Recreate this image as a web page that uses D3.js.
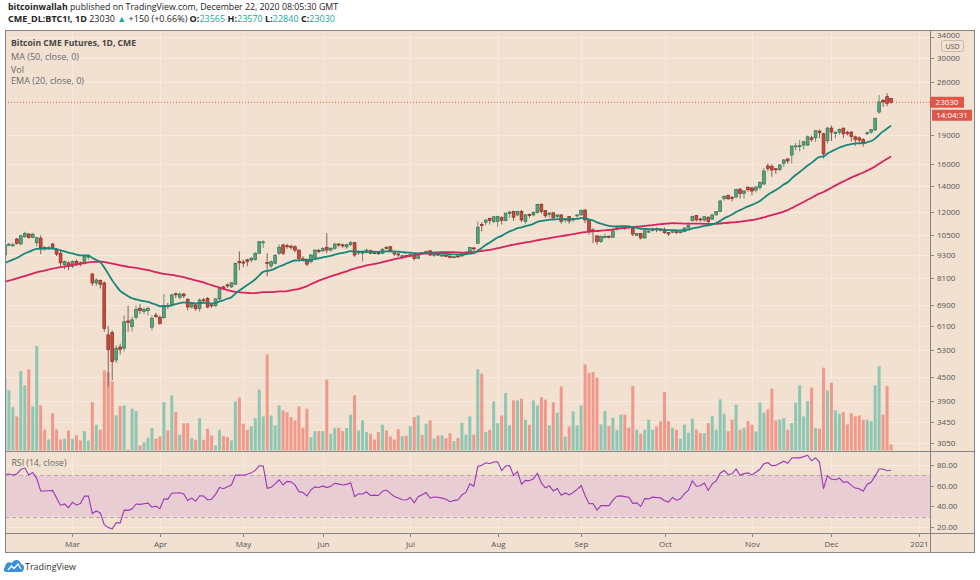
<!DOCTYPE html>
<html><head><meta charset="utf-8">
<script src="https://cdn.jsdelivr.net/npm/d3@7"></script>
<style>html,body{margin:0;padding:0;background:#fff;}svg{display:block;font-family:"Open Sans",Lato,sans-serif;}</style>
</head><body><svg id="c" width="980" height="580"></svg>
<script>
// ---------- categories ----------
const startDate = "2020-02-05";
const holidays = ["2020-02-17","2020-04-10","2020-05-25","2020-07-03","2020-09-07","2020-11-26","2020-12-25","2021-01-01"];
const monthLabels = ["Mar","Apr","May","Jun","Jul","Aug","Sep","Oct","Nov","Dec","2021"];
const monthTickDates = ["2020-03-02","2020-04-01","2020-05-01","2020-06-01","2020-07-01","2020-08-03","2020-09-01","2020-10-01","2020-11-02","2020-12-01","2021-01-04"];
const priceTicks = [3050,3450,3900,4500,5300,6100,6900,8100,9300,10500,12000,14000,16000,19000,26000,30000,34000];
const rsiTicks = [20,40,60,80];
// closes before the first visible bar (for MA/EMA/RSI warm-up)
const priorClose = [7300,7100,7200,7500,7800,7350,7350,7250,7450,7550,7400,7250,7250,7250,7300,6950,6650,7300,7200,7200,7400,7300,7250,7300,7250,7200,7000,7400,7800,8200,8100,7850,8200,8150,8850,8850,8750,8950,8700,8700,8400,8450,8950,9400,9350,9500,9400,9300,9200];
// ---------- series ----------
const open = [9300,9870,9860,10230,9930,10370,10530,10330,10000,10280,9720,9700,9930,9620,9400,8780,8880,8700,8960,8880,8870,9200,8310,7880,7990,7880,5790,5870,4990,5390,5350,6290,6080,6430,6780,6660,6690,6060,6510,6430,6410,6890,6920,7390,7240,7380,7150,6830,6920,6780,7130,7190,6920,6880,7170,7700,7790,7700,7820,8950,8920,9040,9030,9060,9400,10030,8900,8720,8850,9400,9870,9830,9800,9770,9580,9100,9060,8940,9160,9560,9540,9740,9580,9680,9930,9880,9760,9890,10010,9430,9440,9450,9540,9440,9430,9400,9740,9770,9420,9360,9240,9270,9270,9300,9120,9440,9360,9540,9310,9350,9280,9280,9250,9190,9250,9250,9400,9500,9700,9970,11150,11300,11560,11340,11360,11610,11420,11900,12040,11800,12040,11340,11830,11800,11970,12550,12110,11850,11950,11700,11800,11450,11690,11500,11750,11800,12150,11450,10800,10420,10070,10360,10400,10340,10950,11000,11050,11020,10900,10450,10560,10290,10700,10750,10870,10850,10780,10620,10650,10760,10620,10680,10920,11420,11750,11520,11450,11640,11510,11800,12040,12990,13260,13100,13120,13750,13420,13900,13850,13680,13900,14180,15780,15720,15520,15470,16030,16450,16840,17700,17700,17860,17860,18650,18650,19400,19100,18330,19750,19150,19290,19750,19260,19290,18760,18650,18470,19150,19290,19535,21730,23300,23800,23565];
const high = [9900,9990,10000,10300,10480,10680,10600,10600,10350,10450,9800,9800,10000,9700,9600,9000,8950,9000,9050,8950,9300,9300,8350,8100,8050,7950,6100,5950,5450,5500,6500,6890,6450,6900,6950,6820,6850,6500,6600,6500,7380,7000,7400,7450,7450,7430,7200,7000,6980,7200,7200,7250,6950,7200,7700,7750,7850,7920,8900,9500,9050,9100,9200,9450,10100,10150,9400,9000,9350,9900,9950,9950,9900,9850,9600,9250,9100,9350,9600,9650,9750,10580,9750,9950,9980,9950,9950,10100,10050,9550,9550,9650,9600,9500,9500,9700,9780,9800,9450,9400,9300,9300,9380,9320,9380,9460,9550,9560,9380,9400,9350,9300,9270,9250,9280,9400,9520,9750,9750,11350,11300,11500,11600,11700,11750,11700,11950,12100,12100,12100,12150,11850,11900,12050,12600,12650,12150,11980,12000,11850,11850,11600,11700,11600,11850,12200,12200,11500,10900,10450,10450,10550,10450,10800,11100,11100,11100,11100,10950,10600,10600,10800,10780,10950,10950,10900,10950,10650,10800,10800,10700,10950,11150,11750,11800,11600,11700,11700,11850,12050,12900,13250,13300,13200,13800,13850,13700,14000,13950,14000,14400,15600,16000,15950,15600,15950,16450,16500,17800,18100,18400,18300,18900,18900,19500,19600,19200,19900,20050,19400,19700,19800,19450,19400,18900,18800,18600,19350,19600,21000,24040,23450,24300,23570];
const low = [9250,9800,9800,9900,9880,10300,10250,10280,9780,9350,9550,9600,9650,9250,8700,8550,8510,8600,8700,8700,8800,9050,7750,7750,7630,5900,4260,4430,4900,5150,5250,5900,5900,6350,6550,6550,6500,5950,6400,6150,6380,6750,6850,7200,7150,7200,6700,6780,6680,6650,7000,6780,6800,6850,7100,7550,7650,7650,7800,8500,8650,8700,8900,9000,9350,9700,8200,8600,8800,9300,9300,9650,9600,9450,8950,8950,8700,8850,9100,9400,9450,9400,9500,9600,9750,9700,9650,9800,9200,9300,8940,9400,9350,9350,9300,9350,9620,9450,9250,9200,9150,9150,9200,9000,9080,9300,9300,9250,9200,9250,9200,9200,9100,9150,9170,9200,9350,9450,9500,9950,10700,11100,11150,11250,11000,11150,11350,11600,11400,11700,11300,11200,11600,11700,11900,11900,11600,11650,11550,11600,11200,11250,11200,11300,11600,11750,11250,10500,9980,9900,10000,10250,10250,10300,10750,10850,10800,10850,10400,10400,10200,10250,10600,10700,10650,10700,10550,10400,10600,10550,10580,10650,10880,11350,11350,11350,11300,11250,11450,11750,12000,12850,12900,12800,13050,13000,13000,13550,13250,13500,13700,14100,15300,14800,15050,15300,15700,16000,16000,17300,17200,17400,17800,18200,18200,18600,16500,18000,18300,18600,19000,18600,18900,18250,17800,18200,17700,18950,19100,19400,21500,22400,22500,22840];
const close = [9870,9920,9880,9970,10430,10580,10330,10530,10310,9700,9700,9720,9735,9350,8880,8950,8700,8960,8780,8850,9230,9240,7880,8020,7820,6020,5300,4940,5350,5310,6260,6230,6330,6740,6690,6740,6780,6390,6460,6200,6880,6870,7340,7360,7380,7300,6830,6990,6760,7120,7100,6830,6880,7170,7680,7610,7760,7890,8840,8880,8870,8960,9120,9400,10070,10060,8850,8940,9280,9740,9400,9800,9770,9580,9120,9060,8810,9300,9580,9540,9680,9580,9680,9930,9890,9850,9890,10010,9300,9470,9460,9580,9400,9420,9400,9620,9680,9540,9400,9330,9260,9250,9340,9120,9340,9420,9510,9300,9340,9330,9300,9260,9180,9210,9230,9360,9430,9720,9660,10970,11100,11450,11420,11670,11690,11420,11930,12000,11640,12040,11450,11800,11780,11970,12550,12040,11740,11930,11600,11800,11340,11520,11380,11560,11800,12110,11450,10740,10760,10070,10380,10390,10380,10740,11030,11050,11000,10960,10530,10560,10290,10740,10720,10820,10800,10780,10620,10550,10760,10620,10680,10920,11100,11700,11460,11490,11680,11340,11800,12040,12820,13180,12990,13060,13720,13400,13600,13700,13600,13930,14320,15310,15560,15410,15470,15870,16350,16250,17760,17780,17800,18220,18760,18470,19450,19200,16950,19750,19290,19230,19600,19100,19220,18800,18470,18400,18100,19220,19570,20940,23070,23080,22880,23030];
const volume = [12900,10800,7790,6120,14270,11700,14580,7920,18770,8100,3730,1980,6710,3780,1980,2110,3600,2110,2700,1800,3470,1800,8690,4630,3730,14400,14090,12420,6300,7970,8100,180,7510,7070,900,1490,2290,4010,2110,2520,8690,3600,9900,6890,2830,4910,4910,2210,1930,5810,1930,3910,2700,900,3730,2570,2390,1800,8820,9490,4810,3730,4320,5810,10930,6120,17280,6300,4500,8100,7200,6890,5990,5400,7920,4090,7510,2390,3470,3470,3470,12730,3010,4010,4090,3470,4010,6430,9900,3600,5400,3290,3010,1980,3290,4630,3600,2520,1980,3830,2570,2650,4370,5990,6300,2830,4810,5400,2160,2700,2700,2210,3110,1670,2290,4990,2880,6120,2880,14580,13810,3290,3730,8820,4910,6300,10310,4500,9000,9000,9310,5530,4630,9000,8100,9590,9130,4500,8690,6790,11520,2520,4320,7020,4500,8100,15480,13910,14090,13090,4680,7070,4370,5890,3730,6430,6430,4090,11570,3730,3010,3730,5530,3730,4320,5220,10490,5270,4090,3730,2110,4630,3190,5710,3730,3110,3110,4910,6170,3730,9180,6610,3470,5530,8230,3730,4090,5270,4630,3420,8590,6790,7380,11110,5400,5580,5810,3730,4910,8590,11700,6120,8870,11290,4010,3910,14890,10800,12190,7200,6610,6890,4680,6710,6120,6300,5530,5530,5270,11700,15120,6430,11570,1080];

// ---------- dates (trading days) ----------
const fmt = d3.utcFormat("%Y-%m-%d");
const dates = [];
for (let d = new Date(startDate + "T00:00:00Z"); dates.length < 240; d = d3.utcDay.offset(d, 1)) {
  const wd = d.getUTCDay();
  if (wd === 0 || wd === 6) continue;
  if (holidays.includes(fmt(d))) continue;
  dates.push(fmt(d));
}
const N = close.length;
const idx = d3.range(N);

// ---------- indicators ----------
const all = priorClose.concat(close);
const P = priorClose.length;
const ma50 = idx.map(i => d3.mean(all.slice(i + P - 49, i + P + 1)));
const ema20 = [];
{ let e = d3.mean(all.slice(0, 20));
  for (let k = 20; k < all.length; k++) { e += (all[k] - e) * 2 / 21; if (k >= P) ema20[k - P] = e; } }
const rsi = [];
{ let ag = 0, al = 0;
  for (let k = 1; k < all.length; k++) {
    const ch = all[k] - all[k - 1], g = Math.max(ch, 0), l = Math.max(-ch, 0);
    if (k <= 14) { ag += g / 14; al += l / 14; } else { ag = (ag * 13 + g) / 14; al = (al * 13 + l) / 14; }
    if (k >= P) rsi[k - P] = al === 0 ? 100 : 100 - 100 / (1 + ag / al);
  } }

// ---------- layout ----------
const L = 5, R = 930, FR = 975, T = 30, MB = 451, RB = 533, B = 553;
const BG = "#f2e0d0", GRID = "#f7ebe0";
const svg = d3.select("#c");
const x = d3.scaleLinear().domain([0.02, 232.8]).range([L, R]);
const y = d3.scaleLog().domain([2907, 35360]).range([MB, T]);
const yr = d3.scaleLinear().domain([14.2, 92.6]).range([RB, MB + 1]);
const yv = d3.scaleLinear().domain([0, d3.max(volume)]).range([MB - 0.5, MB - 105]);
const up = i => close[i] >= open[i];

svg.append("rect").attr("x", L).attr("y", T).attr("width", FR - L).attr("height", B - T).attr("fill", BG);
const defs = svg.append("defs");
defs.append("clipPath").attr("id", "cm").append("rect").attr("x", L).attr("y", T).attr("width", R - L).attr("height", MB - T);
defs.append("clipPath").attr("id", "cr").append("rect").attr("x", L).attr("y", MB + 1).attr("width", R - L).attr("height", RB - MB - 1);

// grids
const monthIdx = monthTickDates.map(d => dates.indexOf(d));
const grid = svg.append("g").attr("stroke", GRID).attr("stroke-width", 1);
grid.selectAll("line.h").data(priceTicks.filter(p => y(p) > T + 2)).join("line")
  .attr("x1", L).attr("x2", R).attr("y1", p => Math.round(y(p)) + 0.5).attr("y2", p => Math.round(y(p)) + 0.5);
grid.selectAll("line.r").data(rsiTicks).join("line")
  .attr("x1", L).attr("x2", R).attr("y1", v => Math.round(yr(v)) + 0.5).attr("y2", v => Math.round(yr(v)) + 0.5);
grid.selectAll("line.v").data(monthIdx).join("line")
  .attr("x1", i => Math.round(x(i)) + 0.5).attr("x2", i => Math.round(x(i)) + 0.5).attr("y1", T).attr("y2", RB);

// main pane
const gm = svg.append("g").attr("clip-path", "url(#cm)");
gm.selectAll("rect.vol").data(idx).join("rect")
  .attr("x", i => x(i) - 1.5).attr("width", 3)
  .attr("y", i => yv(volume[i])).attr("height", i => yv(0) - yv(volume[i]))
  .attr("fill", i => up(i) ? "#8dc7b3" : "#f0998b");
// last price line
gm.append("line").attr("x1", L).attr("x2", R).attr("y1", y(close[N - 1])).attr("y2", y(close[N - 1]))
  .attr("stroke", "#e0604e").attr("stroke-dasharray", "1,2").attr("stroke-width", 1);
// candles
gm.selectAll("line.wick").data(idx).join("line")
  .attr("x1", i => x(i)).attr("x2", i => x(i)).attr("y1", i => y(high[i])).attr("y2", i => y(low[i]))
  .attr("stroke", i => up(i) ? "#6f8f7e" : "#8f5a52").attr("stroke-width", 1);
gm.selectAll("rect.body").data(idx).join("rect")
  .attr("x", i => x(i) - 1.4).attr("width", 2.8)
  .attr("y", i => y(Math.max(open[i], close[i])))
  .attr("height", i => Math.max(1, Math.abs(y(open[i]) - y(close[i]))))
  .attr("fill", i => up(i) ? "#5ba37f" : "#c9493b")
  .attr("stroke", i => up(i) ? "#2e7250" : "#8c2c22").attr("stroke-width", 0.7);
// MA & EMA
const line = arr => d3.line().x(i => x(i)).y(i => y(arr[i])).curve(d3.curveMonotoneX)(idx);
gm.append("path").attr("d", line(ma50)).attr("fill", "none").attr("stroke", "#d6245f").attr("stroke-width", 1.8);
gm.append("path").attr("d", line(ema20)).attr("fill", "none").attr("stroke", "#17877a").attr("stroke-width", 1.8);

// RSI pane
const gr = svg.append("g").attr("clip-path", "url(#cr)");
gr.append("rect").attr("x", L).attr("width", R - L).attr("y", yr(70)).attr("height", yr(30) - yr(70)).attr("fill", "#e6c9d3").attr("opacity", 0.85);
[70, 30].forEach(v => gr.append("line").attr("x1", L).attr("x2", R).attr("y1", Math.round(yr(v)) + 0.5).attr("y2", Math.round(yr(v)) + 0.5)
  .attr("stroke", "#b9a3ad").attr("stroke-dasharray", "4,3"));
gr.append("path").attr("d", d3.line().x(i => x(i)).y(i => yr(rsi[i]))(idx)).attr("fill", "none").attr("stroke", "#9c36b5").attr("stroke-width", 1.1);

// frame & separators
const fr = svg.append("g").attr("stroke", "#858585").attr("fill", "none");
fr.append("rect").attr("x", L + 0.5).attr("y", T + 0.5).attr("width", FR - L - 1).attr("height", B - T - 1);
fr.append("line").attr("x1", L).attr("x2", FR).attr("y1", MB + 0.5).attr("y2", MB + 0.5);
fr.append("line").attr("x1", L).attr("x2", FR).attr("y1", RB + 0.5).attr("y2", RB + 0.5);
fr.append("line").attr("x1", R + 0.5).attr("x2", R + 0.5).attr("y1", T).attr("y2", B);

// price axis
const ax = svg.append("g").attr("font-size", 8).attr("fill", "#555");
priceTicks.forEach(p => {
  const yy = y(p); if (yy < T + 2) return;
  ax.append("line").attr("x1", R).attr("x2", R + 4).attr("y1", Math.round(yy) + 0.5).attr("y2", Math.round(yy) + 0.5).attr("stroke", "#888");
  ax.append("text").attr("x", R + 7).attr("y", p === 34000 ? yy + 1.5 : yy + 3).text(p);
});
rsiTicks.forEach(v => {
  const yy = yr(v);
  ax.append("line").attr("x1", R).attr("x2", R + 4).attr("y1", Math.round(yy) + 0.5).attr("y2", Math.round(yy) + 0.5).attr("stroke", "#888");
  ax.append("text").attr("x", R + 7).attr("y", yy + 3).text(v.toFixed(2));
});
// USD box
svg.append("rect").attr("x", 941.5).attr("y", 40.5).attr("width", 22).attr("height", 11).attr("rx", 2)
  .attr("fill", BG).attr("stroke", "#c9b9ad");
svg.append("text").attr("x", 952.5).attr("y", 48.8).attr("text-anchor", "middle").attr("font-size", 7).attr("fill", "#555").text("USD");
// last price label + countdown
const ly = y(close[N - 1]);
svg.append("rect").attr("x", R).attr("y", ly - 5.5).attr("width", 34).attr("height", 11).attr("fill", "#e0574a");
svg.append("text").attr("x", R + 17).attr("y", ly + 3).attr("text-anchor", "middle").attr("font-size", 8).attr("fill", "#fff").text(close[N - 1]);
svg.append("rect").attr("x", R + 2).attr("y", ly + 7.5).attr("width", 40).attr("height", 11).attr("fill", "#e0574a");
svg.append("text").attr("x", R + 22).attr("y", ly + 16).attr("text-anchor", "middle").attr("font-size", 8).attr("fill", "#fff").text("14:04:31");

// time axis
monthIdx.forEach((i, k) => {
  const xx = Math.round(x(i)) + 0.5;
  svg.append("line").attr("x1", xx).attr("x2", xx).attr("y1", RB).attr("y2", RB + 4).attr("stroke", "#888");
  svg.append("text").attr("x", xx).attr("y", 547).attr("text-anchor", "middle").attr("font-size", 8).attr("fill", "#555").text(monthLabels[k]);
});

// legends
const lg = svg.append("g").attr("font-size", 8.5);
lg.append("text").attr("x", 11).attr("y", 46).attr("font-weight", "bold").attr("fill", "#474747").attr("textLength", 125).attr("lengthAdjust", "spacingAndGlyphs").text("Bitcoin CME Futures, 1D, CME");
lg.append("text").attr("x", 11).attr("y", 60).attr("fill", "#6a6a6a").attr("textLength", 68).attr("lengthAdjust", "spacingAndGlyphs").text("MA (50, close, 0)");
lg.append("text").attr("x", 11).attr("y", 72.5).attr("fill", "#6a6a6a").attr("textLength", 13).attr("lengthAdjust", "spacingAndGlyphs").text("Vol");
lg.append("text").attr("x", 11).attr("y", 84).attr("fill", "#6a6a6a").attr("textLength", 73).attr("lengthAdjust", "spacingAndGlyphs").text("EMA (20, close, 0)");
lg.append("text").attr("x", 11.5).attr("y", 466).attr("fill", "#6a6a6a").attr("textLength", 55).attr("lengthAdjust", "spacingAndGlyphs").text("RSI (14, close)");

// header
const h1 = svg.append("text").attr("x", 8).attr("y", 10).attr("font-size", 9).attr("fill", "#222")
  .attr("textLength", 330).attr("lengthAdjust", "spacingAndGlyphs");
h1.append("tspan").attr("font-weight", "bold").text("bitcoinwallah");
h1.append("tspan").text(" published on TradingView.com, December 22, 2020 08:05:30 GMT");
const h2 = svg.append("text").attr("x", 8).attr("y", 22).attr("font-size", 9).attr("fill", "#222")
  .attr("textLength", 327).attr("lengthAdjust", "spacingAndGlyphs");
const TEAL = "#26a69a";
[["CME_DL:BTC1!, 1D", "bold", null], ["  23030 ", null, null], ["▲", null, TEAL], [" +150 (+0.66%) ", null, null],
 ["O:", "bold", null], ["23565", null, TEAL], [" H:", "bold", null], ["23570", null, TEAL],
 [" L:", "bold", null], ["22840", null, TEAL], [" C:", "bold", null], ["23030", null, TEAL]]
 .forEach(([t, w, c]) => { const s = h2.append("tspan").text(t); if (w) s.attr("font-weight", w); if (c) s.attr("fill", c); });

// footer logo
const lgo = svg.append("g");
lgo.append("path").attr("d", "M6,572 C4,572 3,569 5,567 C5,563 9,561 12,563 C14,559 20,559 21,564 C24,564 25,568 23,571 C22,572 21,572 20,572 Z").attr("fill", "#3a8fd6");
lgo.append("path").attr("d", "M8,570 L11.5,566 L14,568.5 L18,564 L21,569").attr("fill", "none").attr("stroke", "#fff").attr("stroke-width", 1.3);
svg.append("text").attr("x", 25).attr("y", 570).attr("font-size", 9.5).attr("fill", "#333").attr("textLength", 51).attr("lengthAdjust", "spacingAndGlyphs").text("TradingView");
</script></body></html>
